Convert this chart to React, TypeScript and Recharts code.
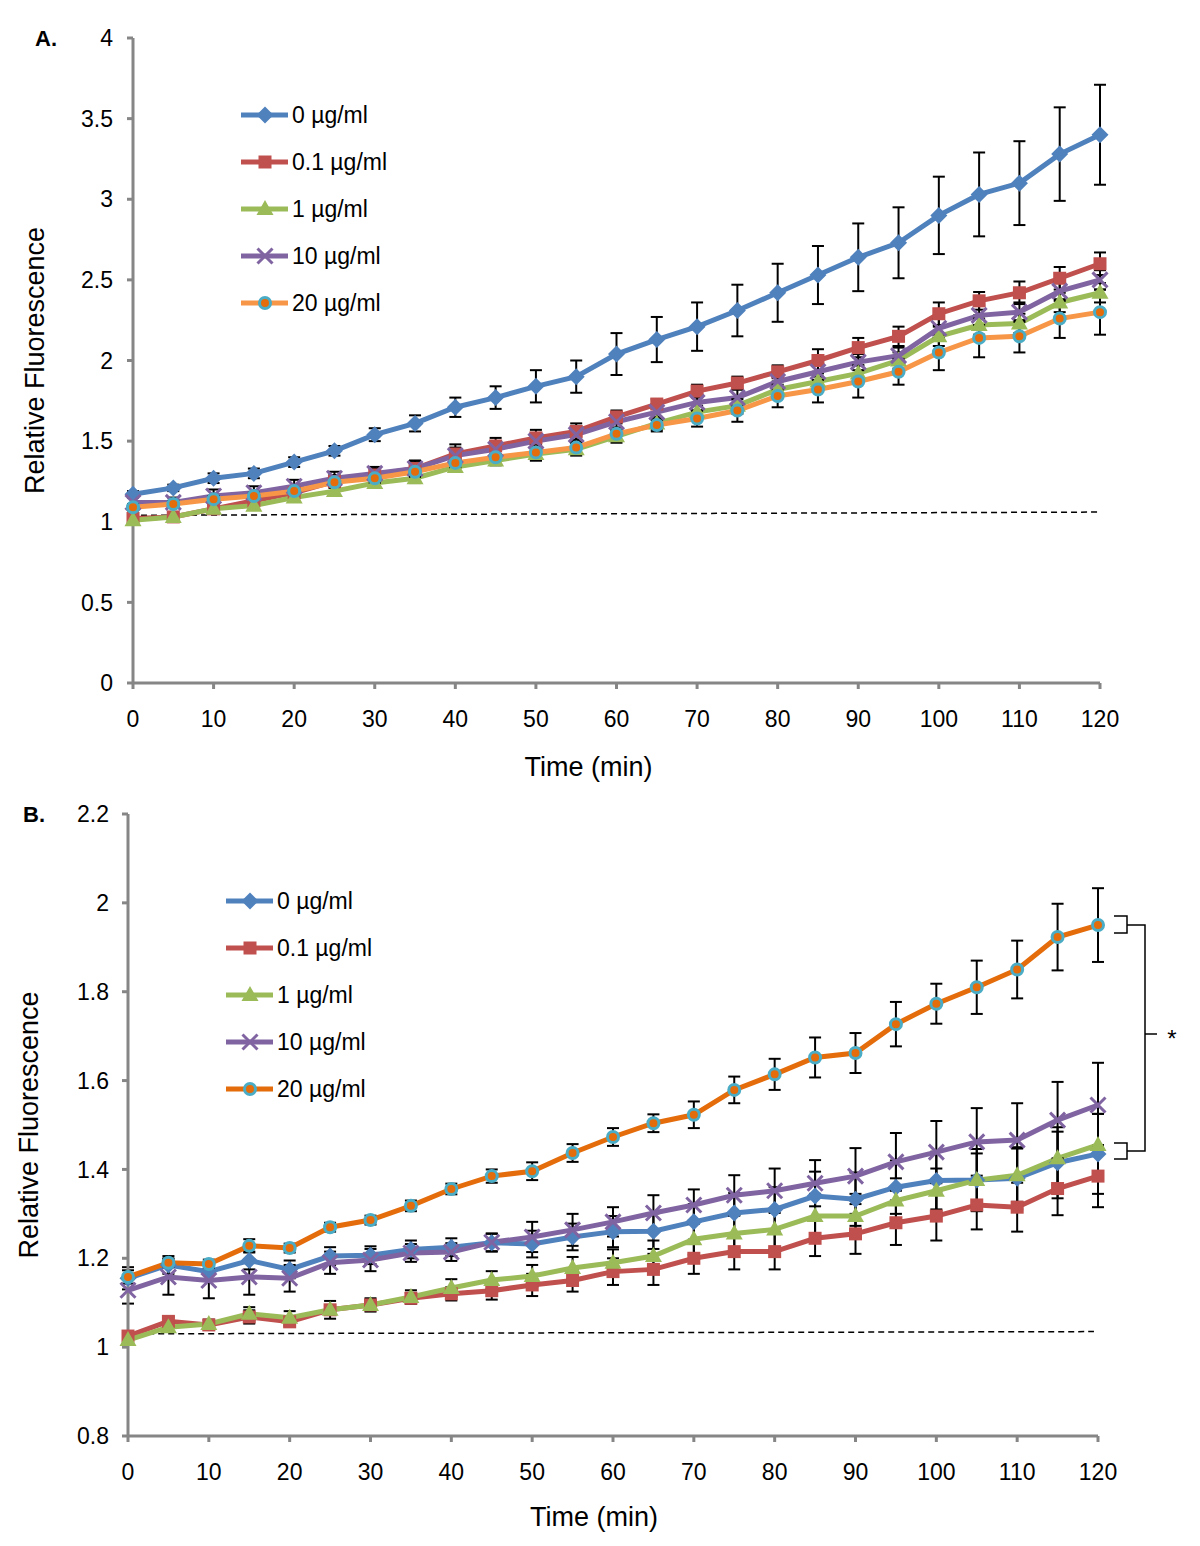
import React from "react";
import {
  ErrorBar,
  Label,
  Legend,
  Line,
  LineChart,
  ReferenceLine,
  XAxis,
  YAxis,
} from "recharts";

const FONT = '"Liberation Sans", Arial, Helvetica, sans-serif';

// time points (min)
const times = [0, 5, 10, 15, 20, 25, 30, 35, 40, 45, 50, 55, 60, 65, 70, 75, 80, 85, 90, 95, 100, 105, 110, 115, 120];
const timeTicks = [0, 10, 20, 30, 40, 50, 60, 70, 80, 90, 100, 110, 120];

const seriesNames = ["0 µg/ml", "0.1 µg/ml", "1 µg/ml", "10 µg/ml", "20 µg/ml"];

// panel A
const a0 = [1.17, 1.21, 1.27, 1.3, 1.37, 1.44, 1.54, 1.61, 1.71, 1.77, 1.84, 1.9, 2.04, 2.13, 2.21, 2.31, 2.42, 2.53, 2.64, 2.73, 2.9, 3.03, 3.1, 3.28, 3.4];
const a01 = [1.02, 1.03, 1.08, 1.13, 1.18, 1.25, 1.29, 1.33, 1.42, 1.47, 1.52, 1.56, 1.65, 1.73, 1.81, 1.86, 1.93, 2.0, 2.08, 2.15, 2.29, 2.37, 2.42, 2.51, 2.6];
const a1 = [1.01, 1.03, 1.08, 1.1, 1.15, 1.19, 1.24, 1.27, 1.34, 1.38, 1.42, 1.45, 1.53, 1.61, 1.68, 1.72, 1.82, 1.87, 1.92, 2.0, 2.15, 2.22, 2.23, 2.36, 2.42];
const a10 = [1.12, 1.12, 1.16, 1.18, 1.22, 1.27, 1.3, 1.33, 1.41, 1.45, 1.5, 1.54, 1.62, 1.68, 1.74, 1.77, 1.87, 1.93, 1.99, 2.03, 2.2, 2.28, 2.3, 2.43, 2.5];
const a20 = [1.09, 1.11, 1.14, 1.16, 1.19, 1.245, 1.27, 1.31, 1.365, 1.4, 1.43, 1.46, 1.545, 1.6, 1.64, 1.69, 1.78, 1.82, 1.87, 1.93, 2.05, 2.14, 2.15, 2.26, 2.3];

const a0Err = [0.02, 0.02, 0.03, 0.03, 0.03, 0.03, 0.04, 0.05, 0.06, 0.07, 0.1, 0.1, 0.13, 0.14, 0.15, 0.16, 0.18, 0.18, 0.21, 0.22, 0.24, 0.26, 0.26, 0.29, 0.31];
const a01Err = [0.02, 0.02, 0.03, 0.03, 0.03, 0.04, 0.04, 0.04, 0.06, 0.05, 0.05, 0.05, 0.04, 0.03, 0.04, 0.04, 0.04, 0.07, 0.06, 0.06, 0.07, 0.055, 0.07, 0.07, 0.07];
const a1Err = [0.02, 0.02, 0.02, 0.02, 0.02, 0.03, 0.03, 0.03, 0.03, 0.03, 0.04, 0.04, 0.04, 0.04, 0.04, 0.05, 0.05, 0.05, 0.05, 0.05, 0.06, 0.06, 0.06, 0.06, 0.06];
const a10Err = [0.03, 0.03, 0.04, 0.04, 0.04, 0.04, 0.04, 0.05, 0.05, 0.05, 0.05, 0.05, 0.05, 0.05, 0.05, 0.05, 0.05, 0.05, 0.05, 0.05, 0.06, 0.06, 0.06, 0.06, 0.06];
const a20Err = [0.02, 0.02, 0.02, 0.02, 0.02, 0.03, 0.03, 0.03, 0.03, 0.04, 0.05, 0.04, 0.04, 0.04, 0.05, 0.07, 0.07, 0.08, 0.1, 0.08, 0.11, 0.12, 0.1, 0.12, 0.14];

// panel B
const b0 = [1.155, 1.185, 1.17, 1.195, 1.175, 1.205, 1.207, 1.22, 1.225, 1.235, 1.232, 1.248, 1.26, 1.261, 1.282, 1.302, 1.31, 1.34, 1.333, 1.36, 1.375, 1.376, 1.38, 1.415, 1.435];
const b01 = [1.025, 1.058, 1.05, 1.068, 1.057, 1.084, 1.095, 1.11, 1.12, 1.127, 1.14, 1.15, 1.17, 1.175, 1.2, 1.215, 1.215, 1.245, 1.255, 1.28, 1.295, 1.32, 1.315, 1.357, 1.385];
const b1 = [1.016, 1.045, 1.052, 1.075, 1.066, 1.084, 1.095, 1.113, 1.133, 1.151, 1.16, 1.178, 1.19, 1.205, 1.243, 1.256, 1.265, 1.295, 1.295, 1.33, 1.352, 1.376, 1.387, 1.425, 1.455];
const b10 = [1.128, 1.158, 1.15, 1.158, 1.155, 1.19, 1.196, 1.212, 1.214, 1.236, 1.248, 1.264, 1.282, 1.302, 1.32, 1.342, 1.352, 1.369, 1.385, 1.417, 1.439, 1.462, 1.466, 1.511, 1.545];
const b20 = [1.158, 1.19, 1.187, 1.228, 1.223, 1.27, 1.286, 1.318, 1.356, 1.385, 1.396, 1.437, 1.473, 1.504, 1.523, 1.579, 1.614, 1.652, 1.662, 1.727, 1.773, 1.81, 1.85, 1.923, 1.95];

const b0Err = [0.025, 0.02, 0.02, 0.02, 0.02, 0.02, 0.02, 0.02, 0.02, 0.02, 0.03, 0.03, 0.035, 0.04, 0.04, 0.045, 0.05, 0.055, 0.06, 0.06, 0.065, 0.07, 0.07, 0.08, 0.09];
const b01Err = [0.01, 0.01, 0.01, 0.015, 0.01, 0.01, 0.01, 0.012, 0.015, 0.02, 0.025, 0.025, 0.03, 0.035, 0.035, 0.04, 0.04, 0.04, 0.045, 0.05, 0.055, 0.055, 0.055, 0.06, 0.07];
const b1Err = [0.01, 0.01, 0.01, 0.015, 0.015, 0.02, 0.015, 0.015, 0.02, 0.02, 0.025, 0.025, 0.03, 0.035, 0.035, 0.04, 0.045, 0.05, 0.05, 0.05, 0.05, 0.06, 0.06, 0.06, 0.07];
const b10Err = [0.03, 0.04, 0.04, 0.04, 0.03, 0.025, 0.025, 0.02, 0.02, 0.02, 0.034, 0.036, 0.033, 0.04, 0.035, 0.045, 0.05, 0.052, 0.063, 0.065, 0.07, 0.076, 0.083, 0.086, 0.095];
const b20Err = [0.015, 0.01, 0.01, 0.015, 0.01, 0.01, 0.01, 0.012, 0.012, 0.015, 0.02, 0.02, 0.02, 0.02, 0.03, 0.03, 0.035, 0.045, 0.045, 0.05, 0.045, 0.06, 0.065, 0.075, 0.083];

const yTicksA = [0, 0.5, 1, 1.5, 2, 2.5, 3, 3.5, 4];
const yTicksB = [0.8, 1, 1.2, 1.4, 1.6, 1.8, 2, 2.2];

// dashed "control" lines
const baseA = [{ x: 1, y: 1.04 }, { x: 120, y: 1.06 }];
const baseB = [{ x: 2.5, y: 1.03 }, { x: 119.5, y: 1.035 }];

const keys = ["s0", "s01", "s1", "s10", "s20"];
const shapes = ["diamond", "square", "triangle", "cross", "circle"];
const colorsA = ["#4F81BD", "#C0504D", "#9BBB59", "#8064A2", "#F79646"];
const colorsB = ["#4F81BD", "#C0504D", "#9BBB59", "#8064A2", "#E46C0A"];
const RING = "#4BACC6";
const DOT_CENTRE = "#E46C0A";

function buildRows(vals: number[][], errs: number[][]) {
  return times.map((t, i) => {
    const row: Record<string, number> = { t };
    keys.forEach((k, j) => {
      row[k] = vals[j][i];
      row[k + "Err"] = errs[j][i];
    });
    return row;
  });
}

const dataA = buildRows([a0, a01, a1, a10, a20], [a0Err, a01Err, a1Err, a10Err, a20Err]);
const dataB = buildRows([b0, b01, b1, b10, b20], [b0Err, b01Err, b1Err, b10Err, b20Err]);

function Marker({ shape, cx, cy, color }: { shape: string; cx: number; cy: number; color: string }) {
  if (cx == null || cy == null) return null;
  switch (shape) {
    case "diamond":
      return <path d={`M${cx},${cy - 8.5}L${cx + 8.5},${cy}L${cx},${cy + 8.5}L${cx - 8.5},${cy}Z`} fill={color} />;
    case "square":
      return <rect x={cx - 6.5} y={cy - 6.5} width={13} height={13} fill={color} />;
    case "triangle":
      return <path d={`M${cx},${cy - 9}L${cx + 8.5},${cy + 6}L${cx - 8.5},${cy + 6}Z`} fill={color} />;
    case "cross":
      return (
        <path
          d={`M${cx - 7.5},${cy - 7.5}L${cx + 7.5},${cy + 7.5}M${cx + 7.5},${cy - 7.5}L${cx - 7.5},${cy + 7.5}`}
          stroke={color}
          strokeWidth={3}
        />
      );
    default:
      return <circle cx={cx} cy={cy} r={5.5} fill={DOT_CENTRE} stroke={RING} strokeWidth={3} />;
  }
}

const tickStyle = { fill: "#000", fontSize: 23, fontFamily: FONT };
const axisStroke = { stroke: "#868686", strokeWidth: 3 };
const titleStyle = { fill: "#000", fontSize: 27, fontFamily: FONT, textAnchor: "middle" as const };

function legendContent(colors: string[]) {
  return () => (
    <div style={{ fontFamily: FONT, fontSize: 23, color: "#000" }}>
      {seriesNames.map((name, i) => (
        <div key={name} style={{ display: "flex", alignItems: "center", height: 47 }}>
          <svg width={51} height={20}>
            <line x1={0} y1={10} x2={47} y2={10} stroke={colors[i]} strokeWidth={5} />
            <Marker shape={shapes[i]} cx={24} cy={10} color={colors[i]} />
          </svg>
          <span>{name}</span>
        </div>
      ))}
    </div>
  );
}

type PanelProps = {
  data: Record<string, number>[];
  colors: string[];
  height: number;
  margin: { top: number; right: number; left: number; bottom: number };
  yAxisWidth: number;
  yDomain: [number, number];
  yTicks: number[];
  tickMarginY: number;
  yTitleOffset: number;
  xAxisHeight: number;
  xTitleDx: number;
  base: { x: number; y: number }[];
  legendPos: { left: number; top: number };
};

function Panel(p: PanelProps) {
  return (
    <LineChart width={1200} height={p.height} data={p.data} margin={p.margin}>
      <XAxis
        dataKey="t"
        type="number"
        domain={[0, 120]}
        ticks={timeTicks}
        tick={tickStyle}
        tickSize={6}
        tickMargin={22}
        axisLine={axisStroke}
        tickLine={axisStroke}
        height={p.xAxisHeight}
      >
        <Label value="Time (min)" position="insideBottom" offset={7} dx={p.xTitleDx} style={titleStyle} />
      </XAxis>
      <YAxis
        type="number"
        domain={p.yDomain}
        ticks={p.yTicks}
        tick={tickStyle}
        tickSize={6}
        tickMargin={p.tickMarginY}
        axisLine={axisStroke}
        tickLine={axisStroke}
        width={p.yAxisWidth}
        tickFormatter={(v: number) => String(Number(v.toFixed(1)))}
        allowDataOverflow
      >
        <Label
          value="Relative Fluorescence"
          angle={-90}
          position="insideLeft"
          offset={p.yTitleOffset}
          dx={7}
          style={titleStyle}
        />
      </YAxis>
      <ReferenceLine segment={p.base} stroke="#000" strokeWidth={1.5} strokeDasharray="6 4" ifOverflow="visible" />
      {keys.map((k, i) => (
        <Line
          key={k}
          dataKey={k}
          name={seriesNames[i]}
          type="linear"
          stroke={p.colors[i]}
          strokeWidth={5}
          isAnimationActive={false}
          activeDot={false}
          dot={(d: any) => (
            <Marker key={`${k}-${d.index}`} shape={shapes[i]} cx={d.cx} cy={d.cy} color={p.colors[i]} />
          )}
        >
          <ErrorBar dataKey={k + "Err"} direction="y" width={6} stroke="#000" strokeWidth={2} isAnimationActive={false} />
        </Line>
      ))}
      <Legend
        layout="vertical"
        align="center"
        verticalAlign="middle"
        content={legendContent(p.colors)}
        wrapperStyle={{ left: p.legendPos.left, top: p.legendPos.top, width: 220, height: "auto" }}
      />
    </LineChart>
  );
}

export default function App() {
  return (
    <div style={{ position: "absolute", left: 0, top: 0, width: 1200, height: 1546, background: "#fff" }}>
      <div style={{ position: "absolute", left: 0, top: 0 }}>
        <Panel
          data={dataA}
          colors={colorsA}
          height={790}
          margin={{ top: 38, right: 100, left: 0, bottom: 7 }}
          yAxisWidth={133}
          yDomain={[0, 4]}
          yTicks={yTicksA}
          tickMarginY={14}
          yTitleOffset={27}
          xAxisHeight={100}
          xTitleDx={-28}
          base={baseA}
          legendPos={{ left: 241, top: 91.5 }}
        />
      </div>
      <div style={{ position: "absolute", left: 0, top: 776 }}>
        <Panel
          data={dataB}
          colors={colorsB}
          height={770}
          margin={{ top: 38, right: 102, left: 0, bottom: 13 }}
          yAxisWidth={128}
          yDomain={[0.8, 2.2]}
          yTicks={yTicksB}
          tickMarginY={13}
          yTitleOffset={21}
          xAxisHeight={97}
          xTitleDx={-19}
          base={baseB}
          legendPos={{ left: 226, top: 101.5 }}
        />
      </div>
      <svg
        width={1200}
        height={1546}
        style={{ position: "absolute", left: 0, top: 0, pointerEvents: "none" }}
      >
        <text x={35} y={46} fontFamily={FONT} fontSize={22} fontWeight="bold" fill="#000">A.</text>
        <text x={23} y={822} fontFamily={FONT} fontSize={22} fontWeight="bold" fill="#000">B.</text>
        <g stroke="#000" strokeWidth={1.5} fill="none">
          <path d="M1114,916 H1127 V933 H1114 M1127,925 H1145 V1151 H1127 M1114,1143 H1127 V1159 H1114 M1145,1034 H1157" />
        </g>
        <text x={1172} y={1047} fontFamily={FONT} fontSize={24} textAnchor="middle" fill="#000">*</text>
      </svg>
    </div>
  );
}
